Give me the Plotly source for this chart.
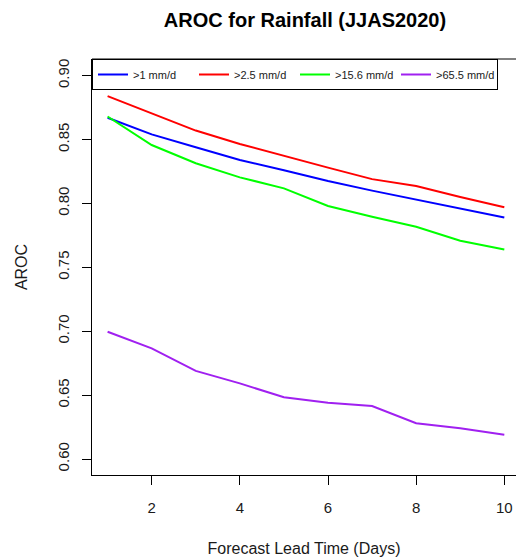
import plotly.graph_objects as go

lead_days = [1, 2, 3, 4, 5, 6, 7, 8, 9, 10]
aroc_gt1 = [0.867, 0.854, 0.844, 0.834, 0.826, 0.8175, 0.810, 0.803, 0.796, 0.789]
aroc_gt2_5 = [0.884, 0.8705, 0.857, 0.8465, 0.837, 0.828, 0.819, 0.8136, 0.805, 0.797]
aroc_gt15_6 = [0.868, 0.8457, 0.8314, 0.8204, 0.8118, 0.798, 0.7896, 0.7818, 0.7708, 0.764]
aroc_gt65_5 = [0.6996, 0.6866, 0.669, 0.6592, 0.6483, 0.6441, 0.6415, 0.628, 0.624, 0.619]

series_names = [">1 mm/d", ">2.5 mm/d", ">15.6 mm/d", ">65.5 mm/d"]
series_values = [aroc_gt1, aroc_gt2_5, aroc_gt15_6, aroc_gt65_5]
series_colors = ["#0000FF", "#FF0000", "#00FF00", "#A020F0"]

x_ticks = [2, 4, 6, 8, 10]
y_ticks = [0.60, 0.65, 0.70, 0.75, 0.80, 0.85, 0.90]
y_tick_text = ["0.60", "0.65", "0.70", "0.75", "0.80", "0.85", "0.90"]

FONT = "Liberation Sans, Arial, sans-serif"
TXT = "#1a1a1a"

fig = go.Figure()
for name, vals, col in zip(series_names, series_values, series_colors):
    fig.add_trace(go.Scatter(x=lead_days, y=vals, mode="lines", name=name,
                             line=dict(color=col, width=2)))

fig.update_layout(
    width=516, height=558,
    margin=dict(l=92, r=0, t=59, b=83),
    plot_bgcolor="white", paper_bgcolor="white",
    font=dict(family=FONT, color=TXT),
    title=dict(text="<b>AROC for Rainfall (JJAS2020)</b>", font=dict(size=20, family=FONT, color="black"),
               x=305/516, xref="container", xanchor="center",
               y=1 - 20/558, yref="container", yanchor="middle"),
    xaxis=dict(range=[0.646, 10.265], tickvals=x_ticks, ticks="outside", ticklen=9,
               tickcolor="black", showline=True, linecolor="black", linewidth=1,
               showgrid=False, zeroline=False, tickfont=dict(size=15), ticklabelstandoff=10,
               title=dict(text="Forecast Lead Time (Days)", font=dict(size=16), standoff=27)),
    yaxis=dict(range=[0.5875, 0.913], tickvals=y_ticks, ticktext=y_tick_text, ticks="outside",
               ticklen=9, tickcolor="black", showline=True, linecolor="black", linewidth=1,
               showgrid=False, zeroline=False, tickangle=-90, tickfont=dict(size=15),
               ticklabelstandoff=7,
               title=dict(text="AROC", font=dict(size=16), standoff=23)),
    legend=dict(orientation="h", x=0, xanchor="left", y=1, yanchor="top",
                bordercolor="black", borderwidth=1, bgcolor="white",
                font=dict(size=11, family=FONT, color=TXT),
                entrywidth=56, entrywidthmode="pixels"),
    shapes=[dict(type="line", xref="paper", yref="paper", x0=0, x1=1, y0=1, y1=1,
                 line=dict(color="black", width=1))],
)

fig.write_html("out.html")
